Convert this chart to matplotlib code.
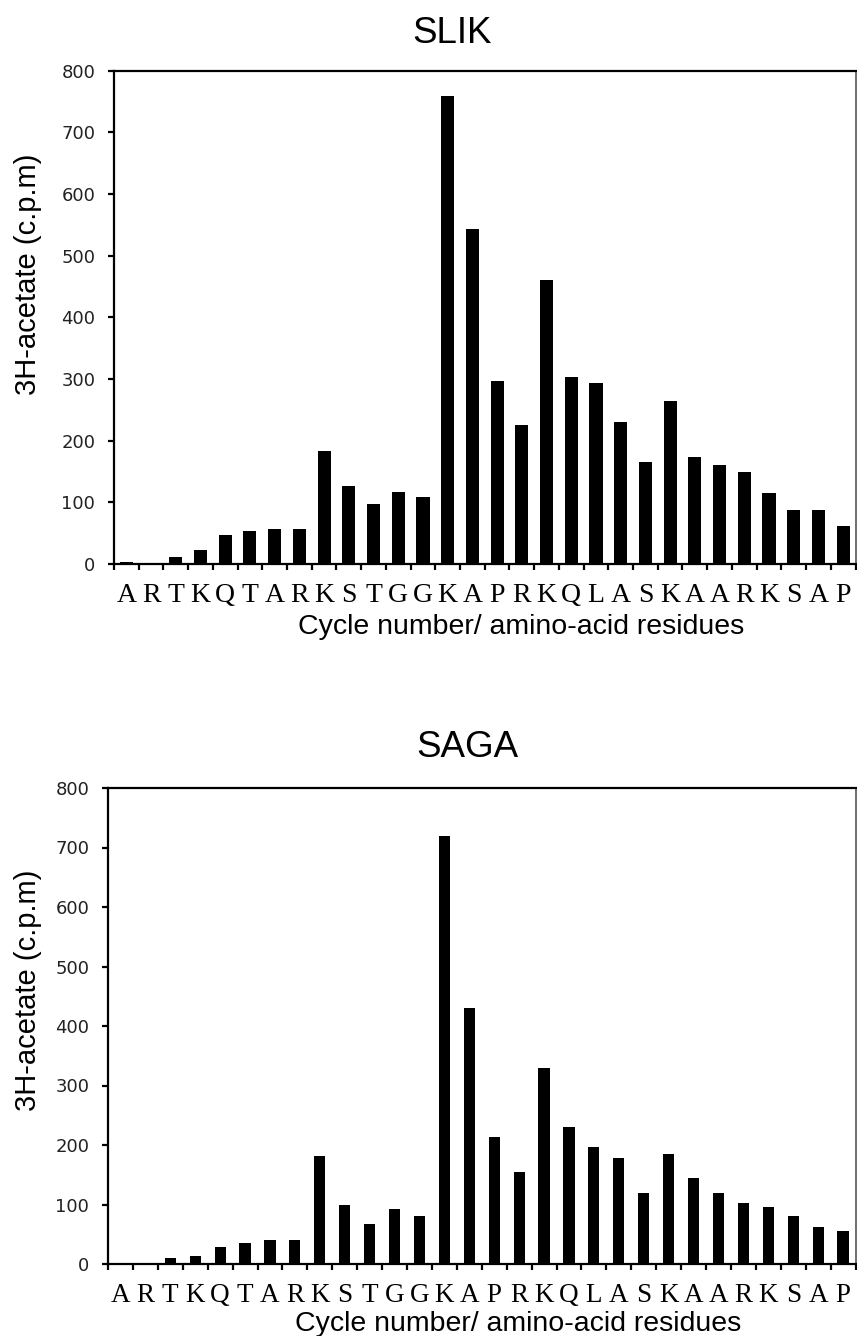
import numpy as np
import matplotlib.pyplot as plt

# amino-acid sequence read by Edman cycles
residues = list("ARTKQTARKSTGGKAPRKQLASKAARKSAP")

# 3H-acetate counts (c.p.m) per cycle
slik = [4, 0, 12, 22, 47, 53, 57, 57, 183, 127, 98, 116, 109, 759,
        544, 296, 226, 460, 303, 293, 230, 166, 265, 174, 160, 150, 115, 87, 87, 62]
saga = [0, 0, 10, 14, 29, 36, 40, 40, 182, 99, 68, 92, 81, 720,
        431, 213, 154, 329, 231, 196, 178, 119, 185, 144, 119, 102, 95, 80, 63, 56]

yticks = [0, 100, 200, 300, 400, 500, 600, 700, 800]

W, H = 857, 1336
fig = plt.figure(figsize=(W / 100, H / 100), dpi=100)


def fx(px):
    return px / W


def fy(py):
    return 1 - py / H


def panel(box, values, width, title, title_xy, ylabel_y, letter_size, xlabel_xy):
    left, top, right, bottom = box
    ax = fig.add_axes([fx(left), fy(bottom), fx(right) - fx(left), fy(top) - fy(bottom)])
    x = np.arange(len(values))
    ax.bar(x, values, width=width, color='black')
    ax.set_xlim(-0.5, len(values) - 0.5)
    ax.set_ylim(0, 800)
    ax.set_yticks(yticks)
    ax.tick_params(axis='y', direction='out', length=4, width=1.6, pad=9.5,
                   labelsize=13)
    for lab in ax.get_yticklabels():
        lab.set_family('DejaVu Sans')
        lab.set_color('#222222')

    # tick marks between residues, labels at the bar centres
    ax.set_xticks(np.arange(-0.5, len(values), 1))
    ax.set_xticklabels([])
    ax.tick_params(axis='x', which='major', direction='out', length=4, width=1.6)
    ax.set_xticks(x, minor=True)
    ax.set_xticklabels(residues, minor=True, fontfamily='Liberation Serif',
                       fontsize=letter_size)
    ax.tick_params(axis='x', which='minor', length=0, pad=14)

    for side in ['left', 'bottom', 'top']:
        ax.spines[side].set_linewidth(1.6)
        ax.spines[side].set_color('black')
    ax.spines['right'].set_linewidth(1.2)
    ax.spines['right'].set_color('#555555')

    fig.text(fx(title_xy[0]), fy(title_xy[1]), title, fontsize=26.5,
             family='Liberation Sans', ha='center', va='baseline')
    fig.text(fx(28.5), fy(ylabel_y), '3H-acetate (c.p.m)', fontsize=21,
             family='Liberation Sans', rotation=90, ha='center', va='center')
    fig.text(fx(xlabel_xy[0]), fy(xlabel_xy[1]), 'Cycle number/ amino-acid residues',
             fontsize=20.5, family='Liberation Sans', ha='left', va='baseline')
    return ax


panel((114, 70.7, 855.5, 564), slik, 0.53, 'SLIK', (452, 43), 274, 20, (298, 634))
panel((108, 788, 855.5, 1264), saga, 0.45, 'SAGA', (467, 757), 990, 19.5, (295, 1331))

fig.savefig('out.png', dpi=100)
